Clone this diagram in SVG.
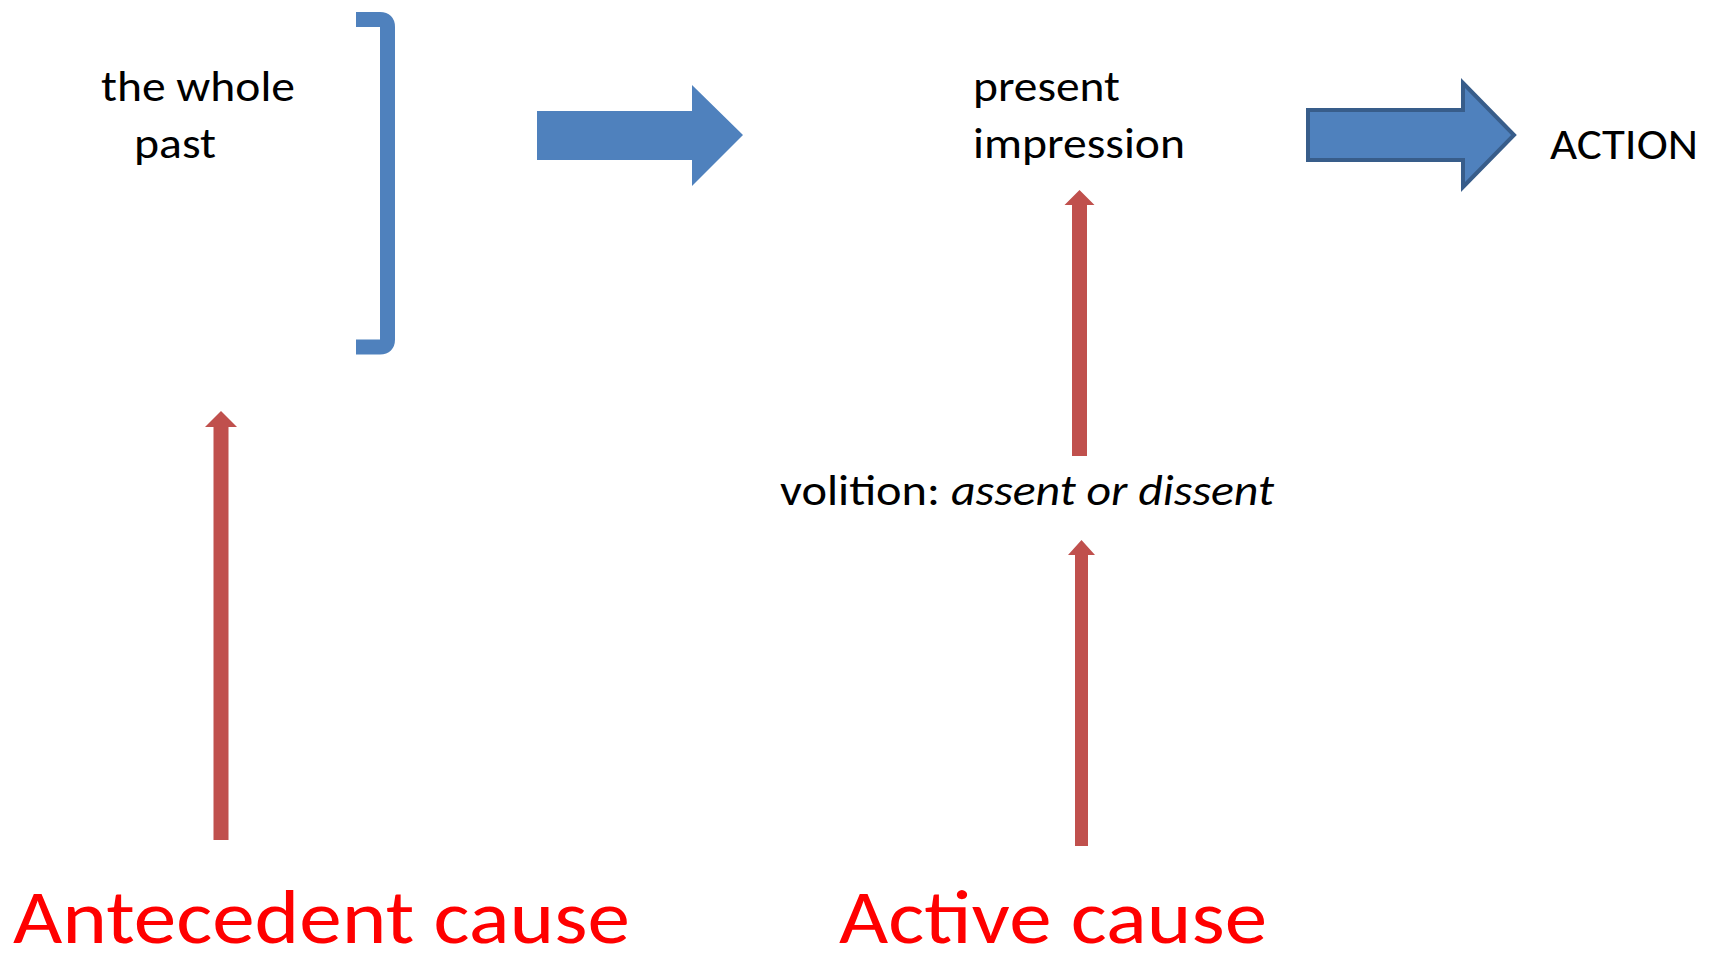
<svg xmlns="http://www.w3.org/2000/svg" width="1709" height="955" viewBox="0 0 1709 955">
  <style>
    .lbl { font-family: Calibri, Carlito, Lato, "Open Sans", sans-serif; font-size: 44px; fill: #000000; }
    .ital { font-style: italic; }
    .cause { font-family: Calibri, Carlito, Lato, "Open Sans", sans-serif; font-size: 77px; fill: #FF0000; }
    .red { fill: #C0504D; }
    .blue { fill: #4F81BD; }
  </style>
  <rect x="0" y="0" width="1709" height="955" fill="#FFFFFF"/>

  <g id="past-node">
    <path d="M356,19.5 H380 Q387.5,19.5 387.5,27 V339.5 Q387.5,347 380,347 H356" fill="none" stroke="#4F81BD" stroke-width="15"/>
    <text class="lbl" x="101" y="101" textLength="194" lengthAdjust="spacingAndGlyphs">the whole</text>
    <text class="lbl" x="134" y="158" textLength="82" lengthAdjust="spacingAndGlyphs">past</text>
  </g>

  <g id="impression-node">
    <text class="lbl" x="973" y="101" textLength="147" lengthAdjust="spacingAndGlyphs">present</text>
    <text class="lbl" x="973" y="158" textLength="212" lengthAdjust="spacingAndGlyphs">impression</text>
  </g>

  <g id="action-node">
    <text class="lbl" x="1550" y="159" textLength="148" lengthAdjust="spacingAndGlyphs">ACTION</text>
  </g>

  <g id="volition-node">
    <text class="lbl" x="780" y="505" textLength="160" lengthAdjust="spacingAndGlyphs">volition:</text>
    <text class="lbl ital" x="951" y="505" textLength="323" lengthAdjust="spacingAndGlyphs">assent or dissent</text>
  </g>

  <g id="antecedent-cause">
    <text class="cause" x="13" y="943" textLength="617" lengthAdjust="spacingAndGlyphs">Antecedent cause</text>
  </g>

  <g id="active-cause">
    <text class="cause" x="839" y="943" textLength="428" lengthAdjust="spacingAndGlyphs">Active cause</text>
  </g>

  <g id="connectors">
    <polygon class="blue" points="537,111 692,111 692,85 743,135 692,186 692,160 537,160"/>
    <polygon class="blue" points="1308,110 1463,110 1463,83 1514,135 1463,187 1463,160 1308,160" stroke="#385D8A" stroke-width="4" stroke-linejoin="miter"/>
    <polygon class="red" points="213.5,840 213.5,427 205,427 221,411 237,427 228.5,427 228.5,840"/>
    <polygon class="red" points="1072,456 1072,205 1064.5,205 1079.5,190 1094.5,205 1087,205 1087,456"/>
    <polygon class="red" points="1075,846 1075,555 1068,555 1081.5,540 1095,555 1088,555 1088,846"/>
  </g>
</svg>
